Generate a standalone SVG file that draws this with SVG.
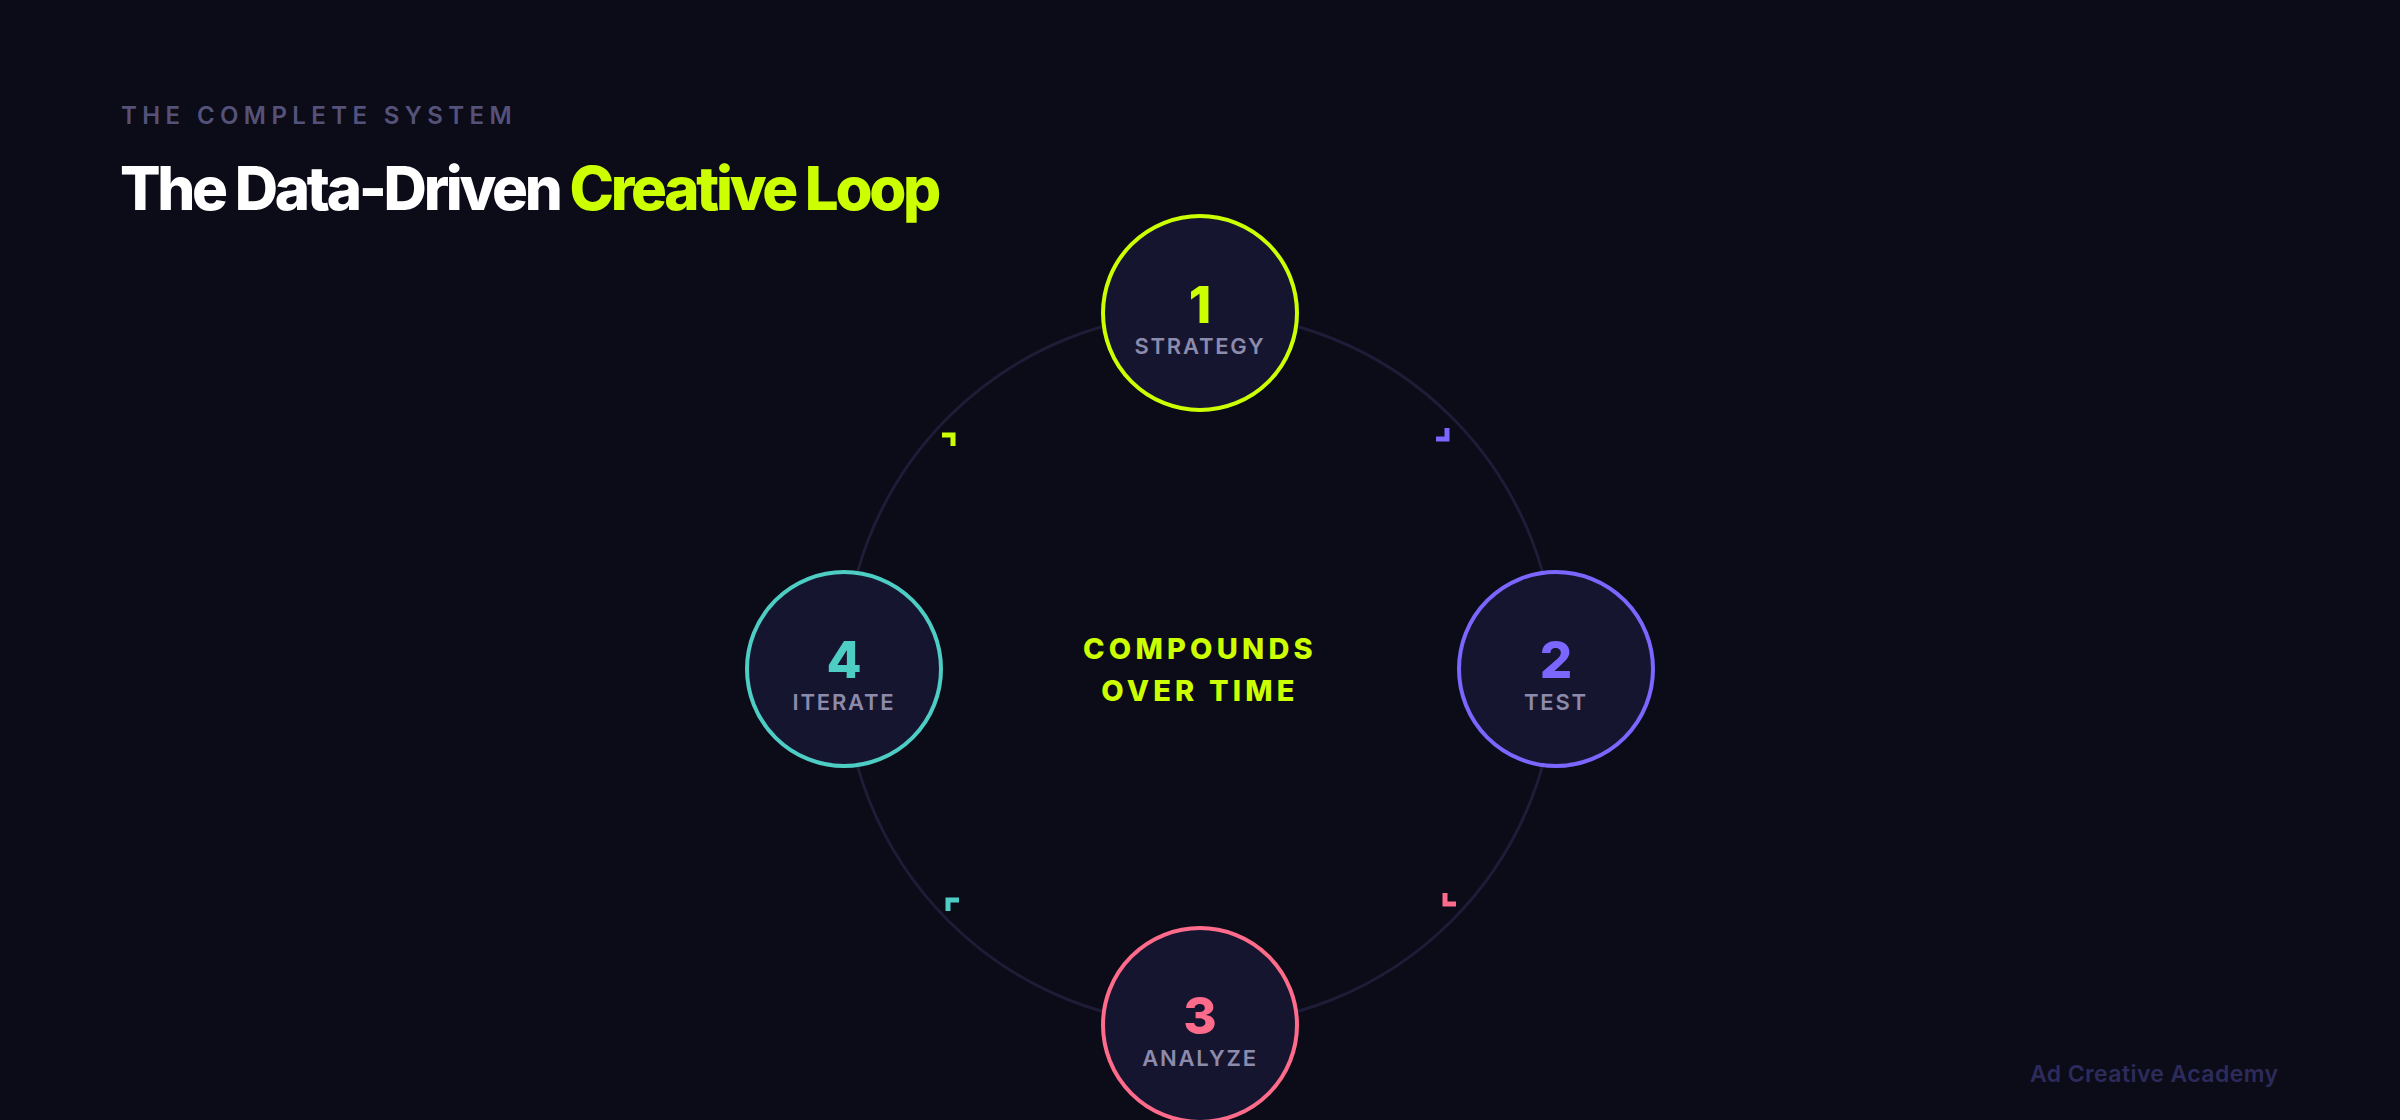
<svg xmlns="http://www.w3.org/2000/svg" width="2400" height="1120" viewBox="0 0 2400 1120">
  <defs>
    <style>
      .bg { fill: #0c0b18; }
      .kicker { font-family: Inter, "Liberation Sans", sans-serif; font-size: 24px; font-weight: 600; letter-spacing: 5.4px; fill: #55527a; }
      .title { font-family: Inter, "Liberation Sans", sans-serif; font-size: 60px; font-weight: 800; letter-spacing: -3.3px; }
      .ring { fill: none; stroke: #1e1c36; stroke-width: 3; }
      .node { fill: #161530; stroke-width: 4; }
      .num { font-family: Inter, "Liberation Sans", sans-serif; font-size: 51px; font-weight: 800; text-anchor: middle; }
      .lbl { font-family: Inter, "Liberation Sans", sans-serif; font-size: 22px; font-weight: 600; letter-spacing: 1.8px; fill: #8d8bab; text-anchor: middle; }
      .center { font-family: Inter, "Liberation Sans", sans-serif; font-size: 29px; font-weight: 800; letter-spacing: 4.2px; fill: #ccff00; text-anchor: middle; }
      .chev { fill: none; stroke-width: 5; stroke-linejoin: miter; stroke-linecap: butt; }
      .footer { font-family: Inter, "Liberation Sans", sans-serif; font-size: 23px; font-weight: 600; letter-spacing: 0.4px; fill: #2d2b5c; }
    </style>
  </defs>
  <rect class="bg" x="0" y="0" width="2400" height="1120"/>

  <g id="header">
    <text class="kicker" x="121" y="124">THE COMPLETE SYSTEM</text>
    <text class="title" x="120" y="210"><tspan fill="#ffffff">The Data-Driven </tspan><tspan fill="#ccff00">Creative Loop</tspan></text>
  </g>

  <g id="connectors">
    <path class="ring" d="M 1200 313 A 356 356 0 0 1 1556 669"/>
    <path class="ring" d="M 1556 669 A 356 356 0 0 1 1200 1025"/>
    <path class="ring" d="M 1200 1025 A 356 356 0 0 1 844 669"/>
    <path class="ring" d="M 844 669 A 356 356 0 0 1 1200 313"/>
    <path class="chev" stroke="#ccff00" d="M 942 435 L 953 435 L 953 446"/>
    <path class="chev" stroke="#7b66ff" d="M 1447 428 L 1447 439 L 1436 439"/>
    <path class="chev" stroke="#ff6b8a" d="M 1445 893 L 1445 904 L 1456 904"/>
    <path class="chev" stroke="#4ecdc4" d="M 959 900 L 948 900 L 948 911"/>
  </g>

  <g id="center-label">
    <text class="center" x="1200" y="659">COMPOUNDS</text>
    <text class="center" x="1200" y="701">OVER TIME</text>
  </g>

  <g id="node-1">
    <circle class="node" cx="1200" cy="313" r="97" stroke="#ccff00"/>
    <text class="num" x="1200" y="323" fill="#ccff00">1</text>
    <text class="lbl" x="1200" y="354">STRATEGY</text>
  </g>
  <g id="node-2">
    <circle class="node" cx="1556" cy="669" r="97" stroke="#7b66ff"/>
    <text class="num" x="1556" y="678" fill="#7b66ff">2</text>
    <text class="lbl" x="1556" y="710">TEST</text>
  </g>
  <g id="node-3">
    <circle class="node" cx="1200" cy="1025" r="97" stroke="#ff6b8a"/>
    <text class="num" x="1200" y="1034" fill="#ff6b8a">3</text>
    <text class="lbl" x="1200" y="1066">ANALYZE</text>
  </g>
  <g id="node-4">
    <circle class="node" cx="844" cy="669" r="97" stroke="#4ecdc4"/>
    <text class="num" x="844" y="678" fill="#4ecdc4">4</text>
    <text class="lbl" x="844" y="710">ITERATE</text>
  </g>

  <g id="footer">
    <text class="footer" x="2030" y="1082">Ad Creative Academy</text>
  </g>
</svg>
